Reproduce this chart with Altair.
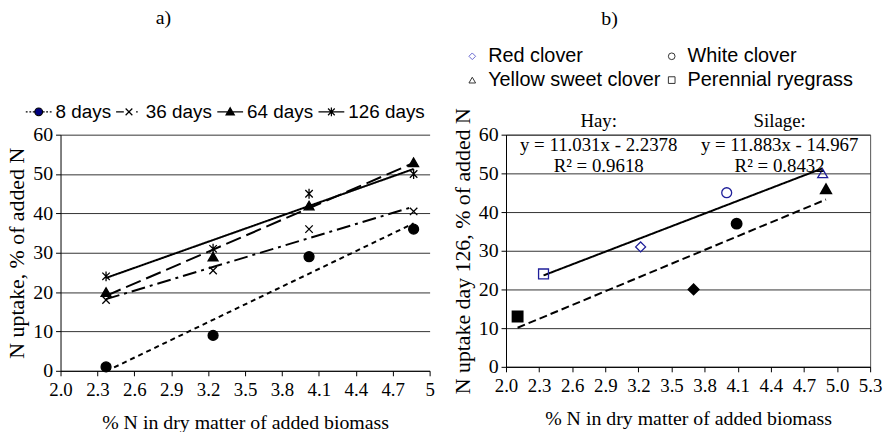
import altair as alt
import pandas as pd

# ---------------- data: panel a) ----------------
x_biomass_n = [2.37, 3.24, 4.02, 4.87]
day_series = ["8 days", "36 days", "64 days", "126 days"]
uptake_8 = [1, 9, 29, 36]
uptake_36 = [18, 25.5, 36, 40.5]
uptake_64 = [20, 29, 42, 53]
uptake_126 = [24, 31, 45, 50]

# ---------------- data: panel b) ----------------
species = ["Red clover", "White clover", "Yellow sweet clover", "Perennial ryegrass"]
hay_n = [3.22, 4.00, 4.87, 2.34]
hay_uptake = [31, 45, 50, 24]
silage_n = [3.70, 4.09, 4.90, 2.105]
silage_uptake = [20, 37, 46, 13]

eq_labels = ["Hay:", "y = 11.031x - 2.2378", "R² = 0.9618",
             "Silage:", "y = 11.883x - 14.967", "R² = 0.8432"]
eq_x = [2.84, 2.84, 2.84, 4.48, 4.48, 4.48]
eq_y = [63.6, 57.3, 52.0, 63.6, 57.3, 52.0]

x_ticks_a = [2.0, 2.3, 2.6, 2.9, 3.2, 3.5, 3.8, 4.1, 4.4, 4.7, 5.0]
x_ticks_b = [2.0, 2.3, 2.6, 2.9, 3.2, 3.5, 3.8, 4.1, 4.4, 4.7, 5.0, 5.3]
y_ticks = [0, 10, 20, 30, 40, 50, 60]

SERIF = "Liberation Serif"
SANS = "Liberation Sans"

# ---------------- tables ----------------
df_a = pd.DataFrame(
    [{"x": x, "y": v, "series": s}
     for s, vals in zip(day_series, [uptake_8, uptake_36, uptake_64, uptake_126])
     for x, v in zip(x_biomass_n, vals)]
)
df_b = pd.DataFrame(
    [{"x": x, "y": v, "species": sp, "type": "Hay"} for sp, x, v in zip(species, hay_n, hay_uptake)]
    + [{"x": x, "y": v, "species": sp, "type": "Silage"} for sp, x, v in zip(species, silage_n, silage_uptake)]
)
df_eq = pd.DataFrame({"x": eq_x, "y": eq_y, "label": eq_labels})


def x_axis(values, expr):
    return alt.Axis(values=values, labelExpr=expr, title="% N in dry matter of added biomass",
                    grid=False, domainColor="black", tickColor="black", tickSize=5,
                    labelFont=SERIF, labelFontSize=19, labelColor="black", labelPadding=5,
                    labelFlush=False, labelOverlap=False,
                    titleFont=SERIF, titleFontSize=20, titleFontWeight="normal",
                    titleColor="black", titlePadding=13)


def y_axis(title):
    return alt.Axis(values=y_ticks, title=title, grid=True, gridColor="#333333", gridWidth=1,
                    domainColor="black", tickColor="black", tickSize=5,
                    labelFont=SERIF, labelFontSize=20, labelColor="black", labelPadding=3,
                    titleFont=SERIF, titleFontSize=22, titleFontWeight="normal",
                    titleColor="black", titlePadding=4)


# ---------------- panel a) ----------------
xa = alt.X("x:Q", scale=alt.Scale(domain=[2.0, 5.0], nice=False, zero=False),
           axis=x_axis(x_ticks_a, "datum.value == 5 ? '5' : format(datum.value, '.1f')"))
ya = alt.Y("y:Q", scale=alt.Scale(domain=[0, 60], nice=False),
           axis=y_axis("N uptake, % of added N"))

x_path = "M-0.75,-0.75L0.75,0.75M-0.75,0.75L0.75,-0.75"
ast_path = "M-0.75,-0.75L0.75,0.75M-0.75,0.75L0.75,-0.75M0,-1L0,1"

lines_a = alt.Chart(df_a).transform_regression(
    "x", "y", groupby=["series"]
).mark_line(color="black", strokeWidth=2).encode(
    x=xa, y=ya,
    strokeDash=alt.StrokeDash("series:N", scale=alt.Scale(
        domain=day_series, range=[[5, 4], [14, 5, 3, 5], [16, 6], [1, 0]]), legend=None),
)

pts_a = alt.Chart(df_a).mark_point(filled=True, fill="black", stroke="black",
                                   strokeWidth=1.3, opacity=1, size=100).encode(
    x=xa, y=ya,
    shape=alt.Shape("series:N", scale=alt.Scale(
        domain=day_series, range=["circle", x_path, "triangle-up", ast_path]), legend=None),
)

leg_paths_a = [
    "M-1,0H-0.86M-0.72,0H-0.58M-0.46,0H-0.34M0.34,0H0.46M0.58,0H0.72M0.86,0H1"
    "M-0.3,0A0.3,0.3 0 1,1 0.3,0A0.3,0.3 0 1,1 -0.3,0Z",
    "M-1,0H-0.4M-0.26,-0.26L0.26,0.26M-0.26,0.26L0.26,-0.26M0.55,0H0.68",
    "M-1,0H1M0,-0.32L0.32,0.24L-0.32,0.24Z",
    "M-1,0H1M-0.26,-0.26L0.26,0.26M-0.26,0.26L0.26,-0.26M0,-0.34V0.34",
]
leg_a_props = dict(title=None, orient="none", legendX=-36, legendY=-37, direction="horizontal",
                   columns=4, symbolSize=676, symbolStrokeWidth=1.2, symbolOpacity=1,
                   labelFont=SANS, labelFontSize=19, labelColor="black", labelOffset=3,
                   columnPadding=2, padding=0, labelLimit=200)
legend_a = alt.Chart(df_a).transform_filter("false").mark_point(
    filled=True, stroke="black", strokeWidth=1.2).encode(
    x=xa, y=ya,
    shape=alt.Shape("series:N", scale=alt.Scale(domain=day_series, range=leg_paths_a),
                    legend=alt.Legend(**leg_a_props)),
    fill=alt.Fill("series:N", scale=alt.Scale(domain=day_series,
                                              range=["#000080", "black", "black", "black"]),
                  legend=alt.Legend(**leg_a_props)),
)

left = alt.layer(lines_a, pts_a, legend_a).resolve_scale(
    shape="independent", fill="independent"
).properties(
    width=372, height=238,
    title=alt.TitleParams("a)", font=SERIF, fontSize=20, fontWeight="normal", color="black",
                          anchor="start", frame="group", dx=96, offset=71),
)

# ---------------- panel b) ----------------
xb = alt.X("x:Q", scale=alt.Scale(domain=[2.0, 5.3], nice=False, zero=False),
           axis=x_axis(x_ticks_b, "format(datum.value, '.1f')"))
yb = alt.Y("y:Q", scale=alt.Scale(domain=[0, 60], nice=False),
           axis=y_axis("N uptake day 126, % of added N"))

shape_b = ["diamond", "circle", "triangle-up", "square"]

lines_b = alt.Chart(df_b).transform_regression(
    "x", "y", groupby=["type"]
).mark_line(color="black", strokeWidth=2).encode(
    x=xb, y=yb,
    strokeDash=alt.StrokeDash("type:N", scale=alt.Scale(
        domain=["Hay", "Silage"], range=[[1, 0], [8, 4]]), legend=None),
)

hay_pts = alt.Chart(df_b).transform_filter("datum.type == 'Hay'").mark_point(
    filled=False, stroke="#1f1f9a", strokeWidth=1.3, size=100, opacity=1).encode(
    x=xb, y=yb,
    shape=alt.Shape("species:N", scale=alt.Scale(domain=species, range=shape_b), legend=None),
)
sil_pts = alt.Chart(df_b).transform_filter("datum.type == 'Silage'").mark_point(
    filled=True, fill="black", stroke="black", size=100, opacity=1).encode(
    x=xb, y=yb,
    shape=alt.Shape("species:N", scale=alt.Scale(domain=species, range=shape_b), legend=None),
)

leg_b_props = dict(title=None, orient="none", legendX=-44, legendY=-89, direction="horizontal",
                   columns=2, symbolSize=45, symbolStrokeWidth=1, symbolOpacity=1,
                   symbolFillColor="transparent",
                   labelFont=SANS, labelFontSize=20, labelColor="black", labelOffset=6,
                   columnPadding=1, rowPadding=4, padding=0, labelLimit=250)
legend_b = alt.Chart(df_b).transform_filter("false").mark_point(filled=False).encode(
    x=xb, y=yb,
    shape=alt.Shape("species:N", scale=alt.Scale(domain=species, range=shape_b),
                    legend=alt.Legend(**leg_b_props)),
    stroke=alt.Stroke("species:N", scale=alt.Scale(
        domain=species, range=["#6a6ad0", "#333333", "#333333", "#333333"]),
        legend=alt.Legend(**leg_b_props)),
)

eq_text = alt.Chart(df_eq).mark_text(font=SERIF, fontSize=19, color="black",
                                     align="center", baseline="middle").encode(
    x=xb, y=yb, text="label:N")

right = alt.layer(lines_b, hay_pts, sil_pts, legend_b, eq_text).resolve_scale(
    shape="independent", stroke="independent"
).properties(
    width=367, height=234,
    view=alt.ViewBackground(stroke="#555555"),
    title=alt.TitleParams("b)", font=SERIF, fontSize=20, fontWeight="normal", color="black",
                          anchor="start", frame="group", dx=96, offset=18),
)

chart = alt.hconcat(left, right, spacing=77, bounds="flush").resolve_scale(
    shape="independent", fill="independent", stroke="independent", strokeDash="independent"
).resolve_legend(
    shape="independent", fill="independent", stroke="independent", strokeDash="independent"
).configure_view(
    stroke="transparent"
).properties(padding={"left": 5, "top": 5, "right": 5, "bottom": 5})

chart.save("out.html", embed_options={"renderer": "svg", "actions": False})
